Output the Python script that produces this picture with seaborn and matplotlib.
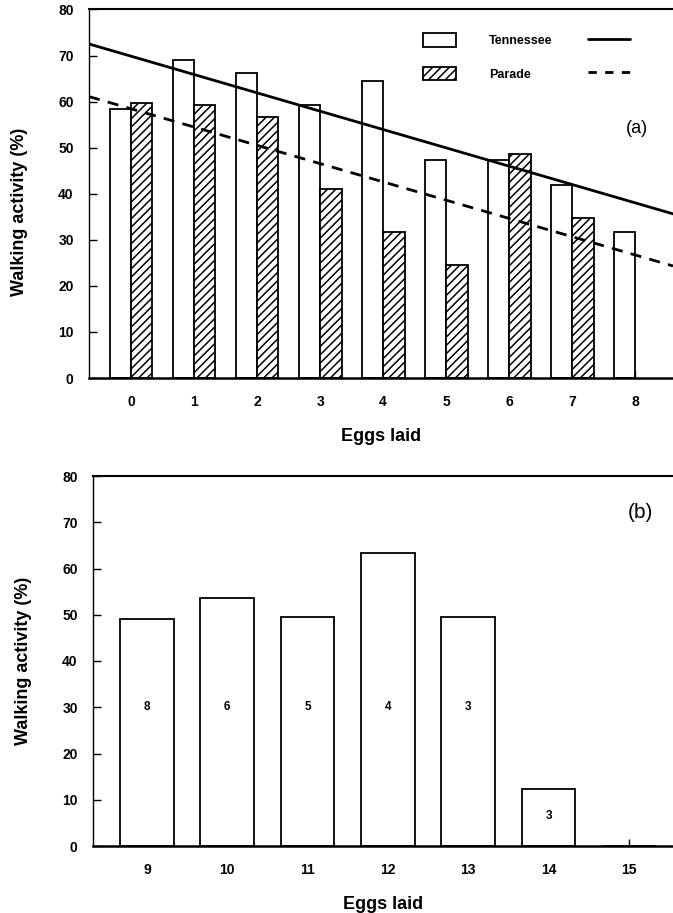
import numpy as np
import pandas as pd
import matplotlib
matplotlib.use("Agg")
import matplotlib.pyplot as plt
import seaborn as sns
from matplotlib.patches import Patch
from matplotlib.lines import Line2D

# Panel (a): walking activity by number of eggs laid, two strains
eggs_a = [0, 1, 2, 3, 4, 5, 6, 7, 8]
tennessee = [58.5, 69.0, 66.2, 59.3, 64.4, 47.3, 47.4, 41.8, 31.6]
parade = [59.7, 59.3, 56.7, 41.0, 31.8, 24.6, 48.6, 34.8, np.nan]
strains = ["Tennessee", "Parade"]

# Panel (b): higher egg counts, with number of females per class
eggs_b = [9, 10, 11, 12, 13, 14, 15]
activity_b = [49.0, 53.7, 49.6, 63.3, 49.6, 12.3, 0.0]
n_females = [8, 6, 5, 4, 3, 3, None]

y_ticks = [0, 10, 20, 30, 40, 50, 60, 70, 80]

sns.set_theme(style="ticks")
plt.rcParams["font.family"] = ["Liberation Sans", "DejaVu Sans"]
plt.rcParams["hatch.linewidth"] = 1.1
plt.rcParams["hatch.color"] = "black"
for key in ("text.color", "axes.labelcolor", "xtick.color", "ytick.color",
            "axes.edgecolor"):
    plt.rcParams[key] = "black"

W, H = 673, 913
fig = plt.figure(figsize=(W / 100, H / 100), dpi=100)
ax_a = fig.add_axes([89 / W, 1 - 378 / H, 584 / W, 368.5 / H])
ax_b = fig.add_axes([93 / W, 1 - 846 / H, 580 / W, 370 / H])

df_a = pd.DataFrame({
    "eggs": eggs_a * 2,
    "strain": [strains[0]] * len(eggs_a) + [strains[1]] * len(eggs_a),
    "activity": tennessee + parade,
})

sns.barplot(data=df_a, x="eggs", y="activity", hue="strain", hue_order=strains,
            palette={s: "white" for s in strains}, saturation=1,
            edgecolor="black", linewidth=1.3, width=0.68, errorbar=None,
            legend=False, ax=ax_a)
for bar in ax_a.containers[1]:
    bar.set_hatch("////")

ax_a.set_xlim(-0.667, 8.6)
sns.regplot(x=eggs_a, y=tennessee, scatter=False, ci=None, truncate=False,
            color="black", line_kws=dict(lw=2.0), ax=ax_a)
sns.regplot(x=eggs_a, y=parade, scatter=False, ci=None, truncate=False,
            color="black", line_kws=dict(lw=2.0, ls=(0, (4, 3))), ax=ax_a)
ax_a.set_xlim(-0.667, 8.6)

df_b = pd.DataFrame({"eggs": eggs_b, "activity": activity_b})
sns.barplot(data=df_b, x="eggs", y="activity", order=eggs_b, color="white",
            saturation=1, edgecolor="black", linewidth=1.3, width=0.67,
            errorbar=None, ax=ax_b)
ax_b.set_xlim(-0.672, 6.55)
for i, (h, n) in enumerate(zip(activity_b, n_females)):
    if n is not None:
        ty = 30 if h >= 40 else h / 2 + 0.3
        ax_b.text(i, ty, str(n), ha="center", va="center",
                  fontsize=8.5, fontweight="bold")

for ax, ylab_y in ((ax_a, 0.45), (ax_b, 0.5)):
    ax.set_ylim(0, 80)
    ax.set_yticks(y_ticks)
    ax.set_axisbelow(True)
    ax.tick_params(axis="y", direction="in", length=6, width=1.0, pad=11,
                   labelsize=10)
    ax.tick_params(axis="x", direction="in", length=5, width=1.0, pad=12,
                   labelsize=10)
    for lab in ax.get_xticklabels() + ax.get_yticklabels():
        lab.set_fontweight("bold")
    ax.spines["right"].set_visible(False)
    ax.spines["top"].set_linewidth(1.5)
    ax.spines["bottom"].set_linewidth(1.8)
    ax.spines["left"].set_linewidth(1.0)
    ax.set_xlabel("Eggs laid", fontsize=13, fontweight="bold", labelpad=14)
    ax.set_ylabel("Walking activity (%)", fontsize=13, fontweight="bold")
    ax.yaxis.set_label_coords(-0.105, ylab_y)

# Legend: bar fills with strain names, then regression line styles
bar_handles = [Patch(facecolor="white", edgecolor="black", lw=1.3),
               Patch(facecolor="white", edgecolor="black", hatch="////", lw=1.3)]
leg1 = ax_a.legend(bar_handles, strains, loc="upper left",
                   bbox_to_anchor=(0.572, 0.935), frameon=False,
                   borderpad=0, borderaxespad=0,
                   prop=dict(size=9, weight="bold"),
                   handlelength=2.6, handleheight=1.3, handletextpad=2.7,
                   labelspacing=1.55)
ax_a.add_artist(leg1)
line_handles = [Line2D([], [], color="black", lw=2.0),
                Line2D([], [], color="black", lw=2.0, ls=(0, (3, 3)))]
ax_a.legend(line_handles, ["", ""], loc="upper left",
            bbox_to_anchor=(0.854, 0.935), frameon=False,
            borderpad=0, borderaxespad=0, prop=dict(size=9),
            handlelength=3.4, handleheight=1.3, handletextpad=0,
            labelspacing=1.55)

ax_a.text(0.938, 0.678, "(a)", transform=ax_a.transAxes, ha="center",
          va="center", fontsize=13)
ax_b.text(0.943, 0.9, "(b)", transform=ax_b.transAxes, ha="center",
          va="center", fontsize=15)

fig.savefig("out.png", dpi=100)
